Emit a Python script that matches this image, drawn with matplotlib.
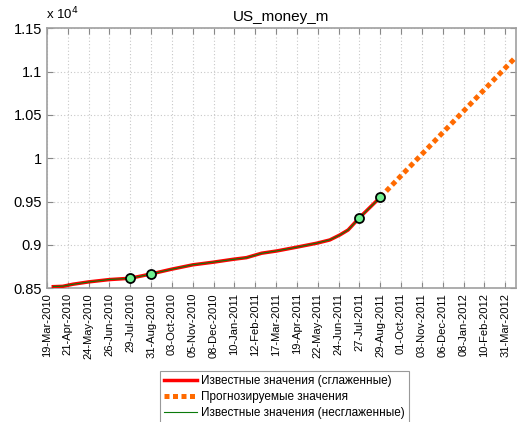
import numpy as np
import matplotlib
matplotlib.use("Agg")
from matplotlib import pyplot as plt
from matplotlib.ticker import FuncFormatter

plt.rcParams['font.family'] = ['Liberation Sans', 'DejaVu Sans']

# days counted from 19-Mar-2010
tick_labels = ["19-Mar-2010", "21-Apr-2010", "24-May-2010", "26-Jun-2010", "29-Jul-2010",
               "31-Aug-2010", "03-Oct-2010", "05-Nov-2010", "08-Dec-2010", "10-Jan-2011",
               "12-Feb-2011", "17-Mar-2011", "19-Apr-2011", "22-May-2011", "24-Jun-2011",
               "27-Jul-2011", "29-Aug-2011", "01-Oct-2011", "03-Nov-2011", "06-Dec-2011",
               "08-Jan-2012", "10-Feb-2012", "31-Mar-2012"]
tick_days = [33 * i for i in range(len(tick_labels))]

known_days = [10, 25, 41, 66, 99, 132, 165, 197, 231, 263, 295, 316, 340, 364, 395,
              427, 448, 464, 477, 495, 528]
known_smooth = [8518, 8522, 8546, 8573, 8600, 8615, 8665, 8719, 8770, 8800, 8834, 8853,
                8904, 8930, 8973, 9019, 9057, 9115, 9172, 9314, 9550]
known_raw = [8520, 8524, 8545, 8572, 8601, 8614, 8664, 8718, 8771, 8801, 8833, 8852,
             8903, 8931, 8972, 9020, 9058, 9114, 9171, 9312, 9548]

fc_days = [528, 743]
fc_vals = [9550, 11170]

mark_days = [132, 165, 495, 528]
mark_vals = [8615, 8665, 9314, 9550]

fig = plt.figure(figsize=(5.22, 4.22), dpi=100)
ax = fig.add_axes([0.090, 0.317, 0.8985, 0.616])

ax.plot(known_days, known_smooth, color='#ff0000', lw=2.5, label='Известные значения (сглаженные)', zorder=3)
ax.plot(fc_days, fc_vals, color='#ff6a00', lw=3.6, linestyle=(0, (1, 0.7)),
        label='Прогнозируемые значения', zorder=3)
ax.plot(known_days, known_raw, color='#0a7a0a', lw=0.8, label='Известные значения (несглаженные)', zorder=4)
ax.plot(mark_days, mark_vals, 'o', ms=6.5, mfc='#70f090', mec='black', mew=1.3, zorder=5)

ax.set_xlim(0, 743)
ax.set_ylim(8500, 11500)
ax.set_xticks(tick_days)
ax.set_xticklabels(tick_labels, rotation=90, fontsize=8)
ax.set_yticks(np.arange(8500, 11501, 500))
ax.yaxis.set_major_formatter(FuncFormatter(lambda v, p: '%g' % (v / 1e4)))
ax.tick_params(axis='y', labelsize=10.5)
ax.tick_params(direction='in', length=4, color='#888888', top=True, right=True)
ax.grid(True, linestyle=(0, (1, 2)), color='#c8c8c8', lw=0.8)
for s in ax.spines.values():
    s.set_color('#a0a0a0')
    s.set_linewidth(1.2)

ax.set_title('US_money_m', fontsize=11, pad=5)
fig.text(0.089, 0.948, r'x 10$^4$', fontsize=9.5, ha='left', va='bottom')

leg = fig.legend(loc='upper left', bbox_to_anchor=(0.3065, 0.121), fontsize=8.5,
                 frameon=True, fancybox=False, edgecolor='#808080', borderpad=0.35,
                 handlelength=2.8, labelspacing=0.35, handletextpad=0.3, borderaxespad=0)
leg.get_frame().set_linewidth(0.8)

fig.savefig('out.png', dpi=100)
